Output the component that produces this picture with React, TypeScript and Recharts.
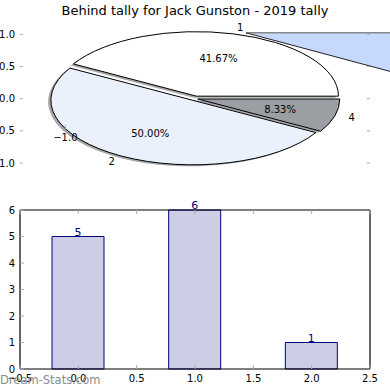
import React from 'react';
import {
  PieChart,
  Pie,
  Cell,
  ScatterChart,
  Scatter,
  XAxis,
  YAxis,
  ReferenceDot,
  BarChart,
  Bar,
  LabelList,
} from 'recharts';

// ---------- data ----------
const pieLabels = ['1', '2', '4'];
const pieValues = [5, 6, 1];
const pieYTicks = [-1, -0.5, 0, 0.5, 1];
const pieXTick = -1;

const barCategories = [0, 1, 2];
const barValues = [5, 6, 1];
const barXTicks = [-0.5, 0, 0.5, 1, 1.5, 2, 2.5];
const barYTicks = [0, 1, 2, 3, 4, 5, 6];

const TITLE = 'Behind tally for Jack Gunston - 2019 tally';
const WATERMARK = 'Dream-Stats.com';

// ---------- styles ----------
const pieColors = ['#ffffff', '#eaf0fc', '#9b9ea3'];
const pieExplode = [0.04, 0.03, 0.02];
const FONT = 'DejaVu Sans, sans-serif';
const RAD = Math.PI / 180;
const RX_RATIO = 142 / 64.5;
const TICK_COLOR = '#aaaaaa';

const pieData = pieLabels.map((name, i) => ({ name, value: pieValues[i] }));
const wedgeData = [{ name: 'wedge', value: 1 }];
const barData = barCategories.map((x, i) => ({ x, v: barValues[i] }));
const emptyPoints: { x: number; y: number }[] = [];

const fmt = (v: number) => v.toFixed(1).replace('-', '\u2212');

function ellipseSector(cx: number, cy: number, rx: number, ry: number, s: number, e: number) {
  const x1 = cx + rx * Math.cos(s * RAD);
  const y1 = cy - ry * Math.sin(s * RAD);
  const x2 = cx + rx * Math.cos(e * RAD);
  const y2 = cy - ry * Math.sin(e * RAD);
  const large = Math.abs(e - s) > 180 ? 1 : 0;
  const sweep = e > s ? 0 : 1;
  return `M${cx},${cy} L${x1},${y1} A${rx},${ry} 0 ${large} ${sweep} ${x2},${y2} Z`;
}

function explodedCenter(p: any) {
  const nm = p.name ?? (p.payload && p.payload.name);
  const i = Math.max(0, pieLabels.indexOf(nm));
  const e = pieExplode[i];
  const rx = p.outerRadius * RX_RATIO;
  const ry = p.outerRadius;
  return {
    x: p.cx + Math.cos(p.midAngle * RAD) * rx * e,
    y: p.cy - Math.sin(p.midAngle * RAD) * ry * e,
    rx,
    ry,
    i,
  };
}

const SliceShape = (p: any) => {
  const c = explodedCenter(p);
  return (
    <path
      d={ellipseSector(c.x, c.y, c.rx, c.ry, p.startAngle, p.endAngle)}
      fill={pieColors[c.i]}
      stroke="#000"
      strokeWidth={1}
      strokeLinejoin="round"
    />
  );
};

const ShadowShape = (p: any) => {
  const c = explodedCenter(p);
  return (
    <path
      d={ellipseSector(c.x - 2.8, c.y + 1.5, c.rx, c.ry, p.startAngle, p.endAngle)}
      fill="#4d4d4d"
      fillOpacity={0.5}
      stroke="none"
    />
  );
};

const WedgeShape = (p: any) => {
  const R = 320;
  const x1 = p.cx + R * Math.cos(p.startAngle * RAD);
  const y1 = p.cy - R * Math.sin(p.startAngle * RAD);
  const x2 = p.cx + R * Math.cos(p.endAngle * RAD);
  const y2 = p.cy - R * Math.sin(p.endAngle * RAD);
  return (
    <g>
      <path d={`M${p.cx},${p.cy} L${x1},${y1} L${x2},${y2} Z`} fill="#c6d8fd" stroke="none" />
      <line x1={p.cx} y1={p.cy} x2={x1} y2={y1} stroke="#888" strokeWidth={1.5} />
      <line x1={p.cx} y1={p.cy} x2={x2} y2={y2} stroke="#222" strokeWidth={1} />
    </g>
  );
};

const renderPieLabel = (p: any) => {
  const c = explodedCenter(p);
  const cos = Math.cos(p.midAngle * RAD);
  const sin = Math.sin(p.midAngle * RAD);
  const ox = c.x + cos * c.rx * 1.1;
  const oy = c.y - sin * c.ry * 1.1;
  const px = c.x + cos * c.rx * 0.6;
  const py = c.y - sin * c.ry * 0.6;
  return (
    <g>
      <text x={ox} y={oy} dy="0.36em" textAnchor={cos > 0 ? 'start' : 'end'} fontSize={10} fontFamily={FONT} fill="#000">
        {p.name}
      </text>
      <text x={px} y={py} dy="0.36em" textAnchor="middle" fontSize={10} fontFamily={FONT} fill="#000">
        {(p.percent * 100).toFixed(2) + '%'}
      </text>
    </g>
  );
};

// ---------- tick renderers ----------
const PieLeftTick = (p: any) => (
  <g>
    <line x1={p.x} x2={p.x + 3} y1={p.y} y2={p.y} stroke={TICK_COLOR} />
    <text x={p.x - 5} y={p.y} dy="0.36em" textAnchor="end" fontSize={10} fontFamily={FONT} fill="#000">
      {fmt(p.payload.value)}
    </text>
  </g>
);
const PieRightTick = (p: any) => (
  <line x1={p.x} x2={p.x - 3} y1={p.y} y2={p.y} stroke={TICK_COLOR} />
);
const PieXLabel = (p: any) => (
  <g>
    <line x1={p.cx} x2={p.cx} y1={p.cy - 6} y2={p.cy - 2} stroke={TICK_COLOR} />
    <text x={p.cx} y={p.cy + 10} textAnchor="middle" fontSize={10} fontFamily={FONT} fill="#000">
      {fmt(pieXTick)}
    </text>
  </g>
);

const BarBottomTick = (p: any) => (
  <g>
    <line x1={p.x} x2={p.x} y1={p.y} y2={p.y - 4} stroke={TICK_COLOR} />
    <text x={p.x} y={p.y + 13} textAnchor="middle" fontSize={10} fontFamily={FONT} fill="#000">
      {fmt(p.payload.value)}
    </text>
  </g>
);
const BarTopTick = (p: any) => (
  <line x1={p.x} x2={p.x} y1={p.y} y2={p.y + 4} stroke={TICK_COLOR} />
);
const BarLeftTick = (p: any) => (
  <g>
    <line x1={p.x} x2={p.x + 4} y1={p.y} y2={p.y} stroke={TICK_COLOR} />
    <text x={p.x - 5} y={p.y} dy="0.36em" textAnchor="end" fontSize={10} fontFamily={FONT} fill="#000">
      {String(p.payload.value)}
    </text>
  </g>
);
const BarRightTick = (p: any) => (
  <line x1={p.x} x2={p.x - 4} y1={p.y} y2={p.y} stroke={TICK_COLOR} />
);

const frameLine = { stroke: '#000', strokeWidth: 1.2 };

export default function App() {
  return (
    <div
      style={{
        position: 'absolute',
        left: 0,
        top: 0,
        width: 390,
        height: 390,
        background: '#fff',
        overflow: 'hidden',
        fontFamily: FONT,
      }}
    >
      {/* Title */}
      <div
        style={{
          position: 'absolute',
          left: 0,
          top: 3.7,
          width: 390,
          textAlign: 'center',
          fontSize: 13,
          lineHeight: '13px',
          color: '#000',
          whiteSpace: 'nowrap',
        }}
      >
        {TITLE}
      </div>

      {/* Pie */}
      <div style={{ position: 'absolute', left: 0, top: 0 }}>
        <PieChart width={390} height={190} margin={{ top: 0, right: 0, bottom: 0, left: 0 }}>
          <Pie
            data={wedgeData}
            dataKey="value"
            cx={246}
            cy={32.8}
            startAngle={0}
            endAngle={-15}
            outerRadius={200}
            shape={WedgeShape}
            activeShape={WedgeShape}
            isAnimationActive={false}
            label={false}
            labelLine={false}
          />
          <Pie
            data={pieData}
            dataKey="value"
            nameKey="name"
            cx={195}
            cy={98.65}
            startAngle={0}
            endAngle={360}
            outerRadius={64.5}
            shape={ShadowShape}
            activeShape={ShadowShape}
            isAnimationActive={false}
            label={false}
            labelLine={false}
          />
          <Pie
            data={pieData}
            dataKey="value"
            nameKey="name"
            cx={195}
            cy={98.65}
            startAngle={0}
            endAngle={360}
            outerRadius={64.5}
            shape={SliceShape}
            activeShape={SliceShape}
            isAnimationActive={false}
            label={renderPieLabel}
            labelLine={false}
          >
            {pieData.map((d, i) => (
              <Cell key={d.name} fill={pieColors[i]} stroke="#000" />
            ))}
          </Pie>
        </PieChart>
      </div>

      {/* Pie axes ticks (drawn on top) */}
      <div style={{ position: 'absolute', left: 0, top: 0, pointerEvents: 'none' }}>
        <ScatterChart width={390} height={190} margin={{ top: 34.3, right: 0, bottom: 27, left: 0 }}>
          <XAxis type="number" dataKey="x" domain={[-1.35, 1.35]} allowDataOverflow hide />
          <YAxis
            type="number"
            dataKey="y"
            domain={[-1, 1]}
            allowDataOverflow
            ticks={pieYTicks}
            interval={0}
            width={20}
            axisLine={false}
            tickLine={false}
            tickSize={0}
            tickMargin={0}
            tick={PieLeftTick}
          />
          <YAxis
            yAxisId="r"
            orientation="right"
            type="number"
            dataKey="y"
            domain={[-1, 1]}
            allowDataOverflow
            ticks={pieYTicks}
            interval={0}
            width={20}
            axisLine={false}
            tickLine={false}
            tickSize={0}
            tickMargin={0}
            tick={PieRightTick}
          />
          <Scatter data={emptyPoints} isAnimationActive={false} />
          <ReferenceDot x={pieXTick} y={-0.5} r={0} shape={PieXLabel} ifOverflow="visible" />
        </ScatterChart>
      </div>

      {/* Bars */}
      <div style={{ position: 'absolute', left: 0, top: 190 }}>
        <BarChart width={390} height={200} data={barData} margin={{ top: 0, right: 0, bottom: 0, left: 0 }}>
          <XAxis
            dataKey="x"
            type="number"
            domain={[-0.5, 2.5]}
            ticks={barXTicks}
            interval={0}
            height={21}
            allowDataOverflow
            axisLine={frameLine}
            tickLine={false}
            tickSize={0}
            tickMargin={0}
            tick={BarBottomTick}
          />
          <XAxis
            xAxisId="top"
            orientation="top"
            dataKey="x"
            type="number"
            domain={[-0.5, 2.5]}
            ticks={barXTicks}
            interval={0}
            height={20}
            allowDataOverflow
            axisLine={frameLine}
            tickLine={false}
            tickSize={0}
            tickMargin={0}
            tick={BarTopTick}
          />
          <YAxis
            type="number"
            domain={[0, 6]}
            ticks={barYTicks}
            interval={0}
            width={20}
            axisLine={frameLine}
            tickLine={false}
            tickSize={0}
            tickMargin={0}
            tick={BarLeftTick}
          />
          <YAxis
            yAxisId="right"
            orientation="right"
            type="number"
            domain={[0, 6]}
            ticks={barYTicks}
            interval={0}
            width={20}
            axisLine={frameLine}
            tickLine={false}
            tickSize={0}
            tickMargin={0}
            tick={BarRightTick}
          />
          <Bar dataKey="v" barSize={52} fill="#cdcde6" stroke="#000080" strokeWidth={1} isAnimationActive={false}>
            <LabelList dataKey="v" position="top" offset={1} fill="#000080" fontSize={11} fontFamily={FONT} />
          </Bar>
        </BarChart>
      </div>

      {/* Watermark */}
      <div
        style={{
          position: 'absolute',
          left: 0,
          top: 375.3,
          fontSize: 11.5,
          lineHeight: '11.5px',
          color: '#8c8c8c',
          whiteSpace: 'nowrap',
        }}
      >
        {WATERMARK}
      </div>
    </div>
  );
}
